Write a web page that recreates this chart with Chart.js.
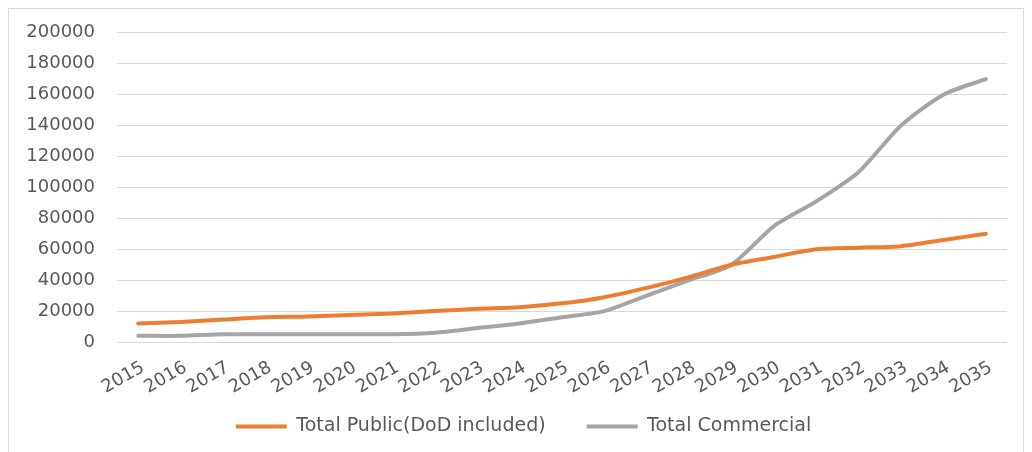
<!DOCTYPE html>
<html>
<head>
<meta charset="utf-8">
<script src="https://cdn.jsdelivr.net/npm/chart.js@4/dist/chart.umd.min.js"></script>
<style>
  html, body { margin: 0; padding: 0; background: #ffffff; }
  #frame { position: absolute; left: 8px; top: 8px; width: 1016px; height: 470px; border: 1px solid #d9d9d9; box-sizing: border-box; }
  #wrap { position: absolute; left: 0; top: 0; width: 1032px; height: 452px; }
</style>
</head>
<body>
<div id="frame"></div>
<div id="wrap"><canvas id="c" width="1032" height="452"></canvas></div>
<script>
const years = ['2015','2016','2017','2018','2019','2020','2021','2022','2023','2024','2025','2026','2027','2028','2029','2030','2031','2032','2033','2034','2035'];
const totalPublic = [12000,13000,14500,16000,16500,17500,18500,20000,21500,22500,25000,29000,35000,42000,50000,55000,60000,61000,62000,66000,70000];
const totalCommercial = [4000,4000,5000,5000,5000,5000,5000,6000,9000,12000,16000,20000,30000,40000,50000,75000,91000,110000,140000,160000,170000];
const yTicks = [0,20000,40000,60000,80000,100000,120000,140000,160000,180000,200000];

const textColor = '#595959';
const fontFam = '"DejaVu Sans", sans-serif';
const noLabelClip = (s) => { s._computeLabelArea = () => undefined; };

new Chart(document.getElementById('c'), {
  type: 'line',
  data: {
    labels: years,
    datasets: [
      { label: 'Total Public(DoD included)', data: totalPublic, borderColor: '#ED7D31', backgroundColor: '#ED7D31', borderWidth: 4, pointRadius: 0, tension: 0.25, borderCapStyle: 'round' },
      { label: 'Total Commercial', data: totalCommercial, borderColor: '#A5A5A5', backgroundColor: '#A5A5A5', borderWidth: 4, pointRadius: 0, tension: 0.25, borderCapStyle: 'round' }
    ]
  },
  options: {
    responsive: false,
    animation: false,
    layout: { padding: { left: 40, right: 25, top: 31, bottom: 6 } },
    plugins: {
      tooltip: { enabled: false },
      legend: {
        position: 'bottom',
        labels: {
          color: textColor,
          font: { family: fontFam, size: 19 },
          boxWidth: 51,
          boxHeight: 4,
          padding: 41,
          generateLabels: (chart) => chart.data.datasets.map((ds, i) => ({
            text: ds.label, fillStyle: ds.borderColor, strokeStyle: ds.borderColor,
            lineWidth: 0, hidden: false, datasetIndex: i, fontColor: textColor
          }))
        }
      }
    },
    scales: {
      x: {
        offset: true,
        grid: { display: false, drawTicks: false },
        border: { display: false },
        ticks: { color: textColor, font: { family: fontFam, size: 18 }, minRotation: 30, maxRotation: 30, autoSkip: false, padding: 15, labelOffset: 5 },
        afterFit: (s) => { s.height = 34; noLabelClip(s); }
      },
      y: {
        min: 0, max: 200000,
        afterBuildTicks: (s) => { s.ticks = yTicks.map(v => ({ value: v })); },
        grid: { color: '#d9d9d9', lineWidth: 1, drawTicks: false },
        border: { display: false },
        ticks: { color: textColor, font: { family: fontFam, size: 18 }, padding: 22, callback: (v) => String(v) },
        afterFit: (s) => { s.width = 77; noLabelClip(s); }
      }
    }
  }
});
</script>
</body>
</html>
